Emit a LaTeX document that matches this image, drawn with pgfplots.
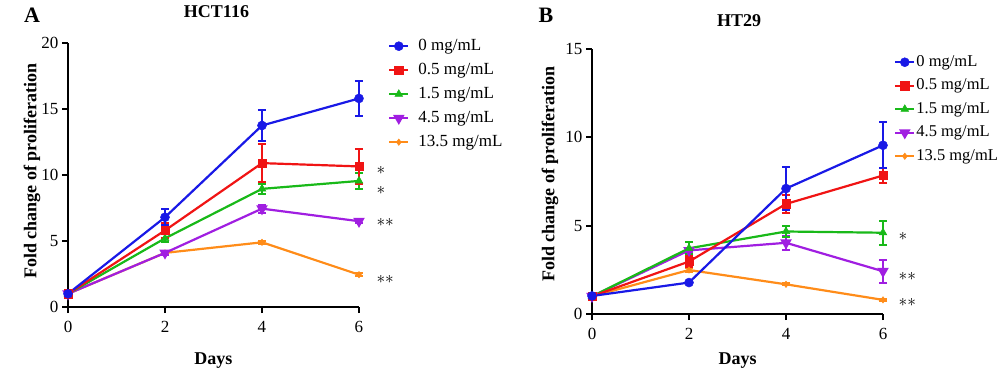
\documentclass[border=0pt]{standalone}
\usepackage{pgfplots}
\pgfplotsset{compat=1.18}
\usepackage{fontspec}
\setmainfont{Liberation Serif}
\definecolor{cblue}{RGB}{25,25,230}
\definecolor{cred}{RGB}{240,20,20}
\definecolor{cgreen}{RGB}{25,185,25}
\definecolor{cpurple}{RGB}{160,30,225}
\definecolor{corange}{RGB}{255,140,25}
\pgfplotsset{
  panel/.style={
    scale only axis, width=291pt,
    axis lines=left, axis line style={line width=2pt,-},
    xmin=0,xmax=6, xtick={0,2,4,6},
    enlargelimits=false, clip=false,
    tick align=outside, major tick length=6pt,
    every tick/.style={black,line width=2pt},
    tick label style={font=\fontsize{17}{19}\selectfont},
    xticklabel style={yshift=-5pt},
    /pgf/number format/assume math mode=true,
    label style={font=\bfseries\fontsize{18}{20}\selectfont},
    title style={font=\bfseries\fontsize{18}{20}\selectfont},
    xlabel style={at={(axis description cs:0.5,0)},anchor=center},
    legend style={draw=none, fill=none, inner sep=0pt, anchor=north west, nodes={inner sep=0pt, text height=12pt, text depth=4pt}},
    legend cell align=left, reverse legend,
    legend image code/.code={\draw[mark repeat=2, mark phase=2] plot coordinates {(0pt,0pt) (9.5pt,0pt) (19pt,0pt)};},
    every axis plot/.append style={line width=2.2pt, mark options={solid,line width=0.5pt},
      /pgfplots/error bars/y dir=both, /pgfplots/error bars/y explicit,
      /pgfplots/error bars/error bar style={line width=2pt},
      /pgfplots/error bars/error mark options={rotate=90, mark size=4pt, line width=2pt}},
  },
  sb/.style={color=cblue, mark=*, mark size=4.5pt},
  sr/.style={color=cred, mark=square*, mark size=4.2pt},
  sg/.style={color=cgreen, mark=triangle*, mark size=4.5pt},
  sp/.style={color=cpurple, mark=triangle*, mark size=4.5pt, mark options={rotate=180}},
  so/.style={color=corange, mark=diamond*, mark size=3.2pt},
}
\begin{document}
\begin{tikzpicture}
\useasboundingbox (0,0) rectangle (1000pt,378pt);
\node[font=\bfseries\fontsize{22}{24}\selectfont] at (32pt,363pt) {A};
\node[font=\bfseries\fontsize{22}{24}\selectfont] at (546pt,363pt) {B};
% Panel A
\begin{axis}[panel, at={(68pt,71pt)}, anchor=south west, height=264pt,
  ymin=0, ymax=20, ytick={0,5,10,15,20},
  xlabel={Days}, ylabel={Fold change of proliferation},
  xlabel style={yshift=-54pt},
  ylabel style={at={(axis description cs:-0.1237,0.515)}, anchor=center},
  title={HCT116}, title style={at={(axis description cs:0.5,1)}, anchor=center, yshift=25pt, xshift=3pt},
  legend style={at={(1.0997,1.019)}, column sep=9pt, row sep=8pt, font=\fontsize{17}{19}\selectfont}]
\addplot[so] coordinates {(0,1) +- (0,0) (2,4.1) +- (0,0) (4,4.9) +- (0,0.1) (6,2.45) +- (0,0.1)};
\addplot[sp] coordinates {(0,1) +- (0,0) (2,4.1) +- (0,0.15) (4,7.45) +- (0,0.3) (6,6.5) +- (0,0.15)};
\addplot[sg] coordinates {(0,1) +- (0,0) (2,5.2) +- (0,0.3) (4,8.95) +- (0,0.4) (6,9.55) +- (0,0.6)};
\addplot[sr] coordinates {(0,1) +- (0,0) (2,5.8) +- (0,0.55) (4,10.9) +- (0,1.45) (6,10.65) +- (0,1.3)};
\addplot[sb] coordinates {(0,1) +- (0,0) (2,6.8) +- (0,0.6) (4,13.75) +- (0,1.2) (6,15.8) +- (0,1.35)};
\legend{13.5 mg/mL, 4.5 mg/mL, 1.5 mg/mL, 0.5 mg/mL, 0 mg/mL}
\node[anchor=west, font=\fontsize{18}{20}\selectfont] at (axis cs:6.29,10.38) {$\ast$};
\node[anchor=west, font=\fontsize{18}{20}\selectfont] at (axis cs:6.29,8.86) {$\ast$};
\node[anchor=west, font=\fontsize{18}{20}\selectfont] at (axis cs:6.29,6.44) {$\mathord{\ast}\mathord{\ast}$};
\node[anchor=west, font=\fontsize{18}{20}\selectfont] at (axis cs:6.29,2.12) {$\mathord{\ast}\mathord{\ast}$};
\end{axis}
% Panel B
\begin{axis}[panel, at={(592pt,64pt)}, anchor=south west, height=265pt,
  ymin=0, ymax=15, ytick={0,5,10,15},
  xlabel={Days}, ylabel={Fold change of proliferation},
  xlabel style={yshift=-47pt},
  ylabel style={at={(axis description cs:-0.1443,0.528)}, anchor=center},
  title={HT29}, title style={at={(axis description cs:0.5,1)}, anchor=center, yshift=22pt, xshift=1.5pt},
  legend style={at={(1.0378,0.981)}, column sep=1pt, row sep=7.5pt, font=\fontsize{16.5}{18}\selectfont}]
\addplot[so] coordinates {(0,1) +- (0,0) (2,2.49) +- (0,0.1) (4,1.68) +- (0,0.05) (6,0.8) +- (0,0.05)};
\addplot[sp] coordinates {(0,1) +- (0,0) (2,3.6) +- (0,0.1) (4,4.03) +- (0,0.4) (6,2.42) +- (0,0.65)};
\addplot[sg] coordinates {(0,1) +- (0,0) (2,3.72) +- (0,0.35) (4,4.67) +- (0,0.3) (6,4.6) +- (0,0.69)};
\addplot[sr] coordinates {(0,1) +- (0,0) (2,2.97) +- (0,0.3) (4,6.23) +- (0,0.5) (6,7.84) +- (0,0.42)};
\addplot[sb] coordinates {(0,1.02) +- (0,0) (2,1.78) +- (0,0.05) (4,7.1) +- (0,1.2) (6,9.55) +- (0,1.3)};
\legend{13.5 mg/mL, 4.5 mg/mL, 1.5 mg/mL, 0.5 mg/mL, 0 mg/mL}
\node[anchor=west, font=\fontsize{18}{20}\selectfont] at (axis cs:6.25,4.36) {$\ast$};
\node[anchor=west, font=\fontsize{18}{20}\selectfont] at (axis cs:6.25,2.15) {$\mathord{\ast}\mathord{\ast}$};
\node[anchor=west, font=\fontsize{18}{20}\selectfont] at (axis cs:6.25,0.68) {$\mathord{\ast}\mathord{\ast}$};
\end{axis}
\end{tikzpicture}
\end{document}
